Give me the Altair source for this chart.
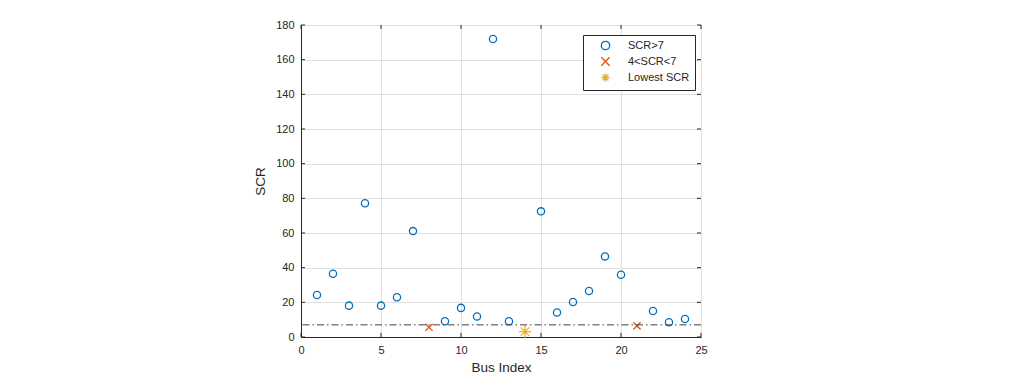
import altair as alt
import pandas as pd

bus = list(range(1, 25))
scr = [24.2, 36.5, 18.1, 77.2, 18.1, 22.9, 61.1, 5.6, 9.1, 16.8, 11.8, 171.9,
       9.1, 3.1, 72.5, 14.1, 20.2, 26.5, 46.5, 35.9, 6.4, 15.0, 8.5, 10.4]
threshold = 7
cats = ["SCR>7", "4<SCR<7", "Lowest SCR"]
colors = ["#0072BD", "#D95319", "#EDB120"]
x_ticks = [0, 5, 10, 15, 20, 25]
y_ticks = [0, 20, 40, 60, 80, 100, 120, 140, 160, 180]

lowest = min(scr)
def cat(v):
    if v == lowest:
        return cats[2]
    if v < threshold:
        return cats[1]
    return cats[0]

df = pd.DataFrame({"bus": bus, "scr": scr, "cat": [cat(v) for v in scr]})

W, H = 400, 312
FONT = "Liberation Sans"
AX = "#262626"

xs = alt.Scale(domain=[0, 25], nice=False, zero=False)
ys = alt.Scale(domain=[0, 180], nice=False)

shapes = ["circle",
          "M-1,-1L1,1M-1,1L1,-1",
          "M-1,0L1,0M0,-1L0,1M-0.7,-0.7L0.7,0.7M-0.7,0.7L0.7,-0.7"]

common = dict(grid=True, gridColor="#e0e0e0", tickSize=0, labelPadding=7,
              domainColor=AX, labelColor=AX, titleColor=AX, titleFont=FONT,
              labelFont=FONT, labelFontSize=11, titleFontSize=13.5,
              titleFontWeight="normal", labelOverlap=False, labelFlush=False)
xaxis = alt.Axis(values=x_ticks, title="Bus Index", titlePadding=5, **common)
yaxis = alt.Axis(values=y_ticks, title="SCR", titlePadding=8, **common)

points = alt.Chart(df).mark_point(filled=False, strokeWidth=1.3, opacity=1).encode(
    x=alt.X("bus:Q", scale=xs, axis=xaxis),
    y=alt.Y("scr:Q", scale=ys, axis=yaxis),
    color=alt.Color("cat:N", scale=alt.Scale(domain=cats, range=colors),
                    legend=alt.Legend(title=None, orient="none", legendX=282, legendY=10,
                                      strokeColor=AX, fillColor="white", padding=5,
                                      labelFont=FONT, labelFontSize=11, labelColor=AX,
                                      symbolOffset=12, labelOffset=17, rowPadding=1,
                                      symbolSize=70, symbolStrokeWidth=1.3, cornerRadius=0)),
    shape=alt.Shape("cat:N", scale=alt.Scale(domain=cats, range=shapes), legend=None),
    size=alt.condition(alt.datum.cat == cats[2], alt.value(150), alt.value(52)),
)

thr = alt.Chart(pd.DataFrame({"t": [threshold]})).mark_rule(
    color="#404040", strokeWidth=1, strokeDash=[7, 3, 1.5, 3]).encode(
    y=alt.Y("t:Q", scale=ys, axis=yaxis))

tdf = pd.DataFrame({"v": y_ticks})
xdf = pd.DataFrame({"v": x_ticks})
yl = alt.Chart(tdf).mark_rule(color=AX).encode(y=alt.Y("v:Q", scale=ys, axis=yaxis), x=alt.value(0), x2=alt.value(4))
yr = alt.Chart(tdf).mark_rule(color=AX).encode(y=alt.Y("v:Q", scale=ys, axis=yaxis), x=alt.value(W - 4), x2=alt.value(W))
xb = alt.Chart(xdf).mark_rule(color=AX).encode(x=alt.X("v:Q", scale=xs, axis=xaxis), y=alt.value(H), y2=alt.value(H - 4))
xt = alt.Chart(xdf).mark_rule(color=AX).encode(x=alt.X("v:Q", scale=xs, axis=xaxis), y=alt.value(0), y2=alt.value(4))

chart = alt.layer(points, thr, yl, yr, xb, xt).properties(
    width=W, height=H,
    autosize=alt.AutoSizeParams(type="none"),
    padding={"left": 293, "top": 17, "right": 300, "bottom": 45},
).configure_view(stroke=AX, strokeWidth=1).configure(background="white")

chart.save("out.html", embed_options={"renderer": "svg", "actions": False})
